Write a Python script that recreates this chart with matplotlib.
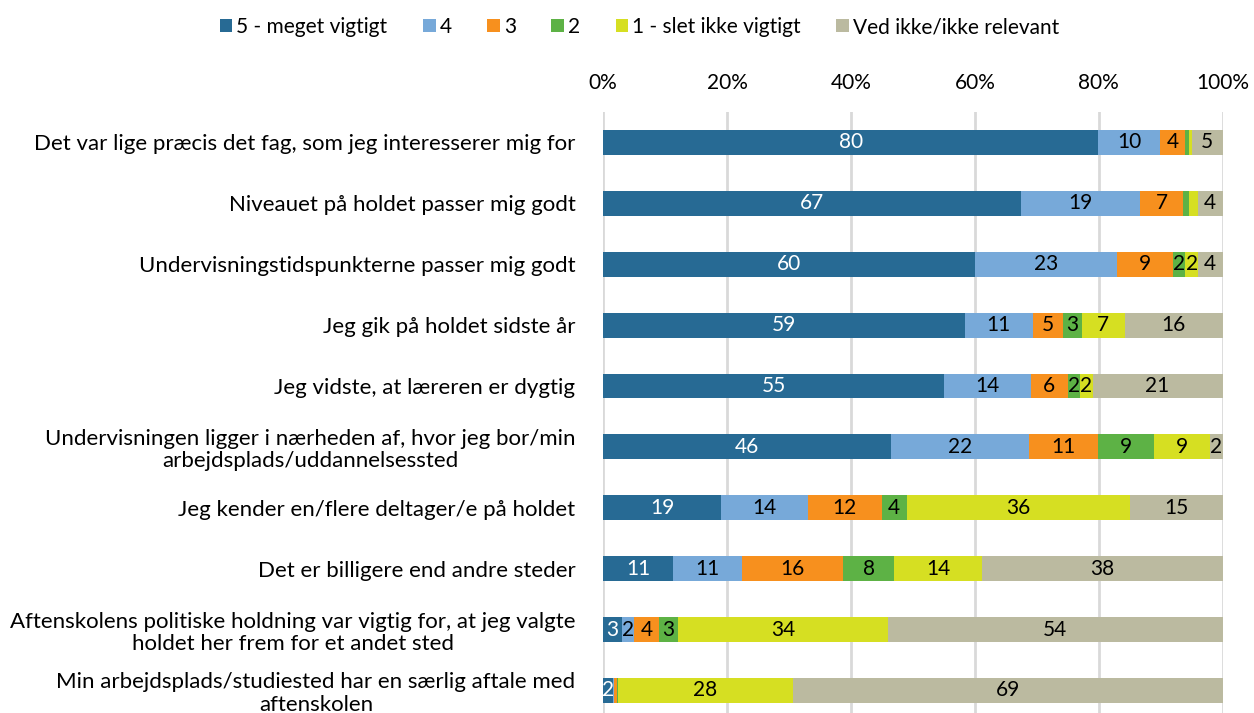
import numpy as np
import matplotlib.pyplot as plt

plt.rcParams['font.family'] = ['Lato', 'DejaVu Sans']

categories = [
    "Det var lige præcis det fag, som jeg interesserer mig for",
    "Niveauet på holdet passer mig godt",
    "Undervisningstidspunkterne passer mig godt",
    "Jeg gik på holdet sidste år",
    "Jeg vidste, at læreren er dygtig",
    "Undervisningen ligger i nærheden af, hvor jeg bor/min\narbejdsplads/uddannelsessted",
    "Jeg kender en/flere deltager/e på holdet",
    "Det er billigere end andre steder",
    "Aftenskolens politiske holdning var vigtig for, at jeg valgte\nholdet her frem for et andet sted",
    "Min arbejdsplads/studiested har en særlig aftale med\naftenskolen",
]

series_names = ["5 - meget vigtigt", "4", "3", "2", "1 - slet ikke vigtigt", "Ved ikke/ikke relevant"]

s5 = [80, 67, 60, 59, 55, 46, 19, 11, 3, 1.5]
s4 = [10, 19, 23, 11, 14, 22, 14, 11, 2, 0.3]
s3 = [4, 7, 9, 5, 6, 11, 12, 16, 4, 0.4]
s2 = [0.6, 0.9, 2, 3, 2, 9, 4, 8, 3, 0.2]
s1 = [0.5, 1.4, 2, 7, 2, 9, 36, 14, 34, 28]
s0 = [5, 4, 4, 16, 21, 2, 15, 38, 54, 69]

colors = ["#276A94", "#77A9D9", "#F7901E", "#5DB245", "#D6DF22", "#BBBAA0"]
text_colors = ["white", "black", "black", "black", "black", "black"]

data = np.array([s5, s4, s3, s2, s1, s0], dtype=float)
share = data / data.sum(axis=0) * 100  # 100% stacked, like the original

fig = plt.figure(figsize=(12.54, 7.13), dpi=100)
ax = fig.add_axes([0.481, 0.0, 0.494, 601 / 713])

y = np.arange(len(categories))
left = np.zeros(len(categories))
for k, (name, c, tc) in enumerate(zip(series_names, colors, text_colors)):
    w = share[k]
    ax.barh(y, w, left=left, height=0.41, color=c, label=name, zorder=3)
    for i, v in enumerate(data[k]):
        if v >= 1.5:
            ax.text(left[i] + w[i] / 2, y[i], "%.0f" % v, ha="center", va="center",
                    color=tc, fontsize=15, zorder=4)
    left += w

ax.set_xlim(0, 100)
ax.set_ylim(9.37, -0.5)
ax.set_xticks(np.arange(0, 101, 20))
ax.set_xticklabels(["%d%%" % t for t in range(0, 101, 20)], fontsize=15)
ax.xaxis.tick_top()
ax.tick_params(axis="x", length=0, pad=14)
ax.grid(axis="x", color="#D9D9D9", linewidth=2, zorder=0)
ax.set_yticks(y)
ax.set_yticklabels(categories, fontsize=16, multialignment="center", linespacing=1.15)
ax.tick_params(axis="y", length=0, pad=20)
for s in ax.spines.values():
    s.set_visible(False)

fig.legend(loc="center", bbox_to_anchor=(0.51, 0.962), ncol=6, frameon=False,
           fontsize=15, handlelength=0.6, handleheight=0.6, handletextpad=0.2,
           columnspacing=1.7)

fig.savefig("out.png", dpi=100)
